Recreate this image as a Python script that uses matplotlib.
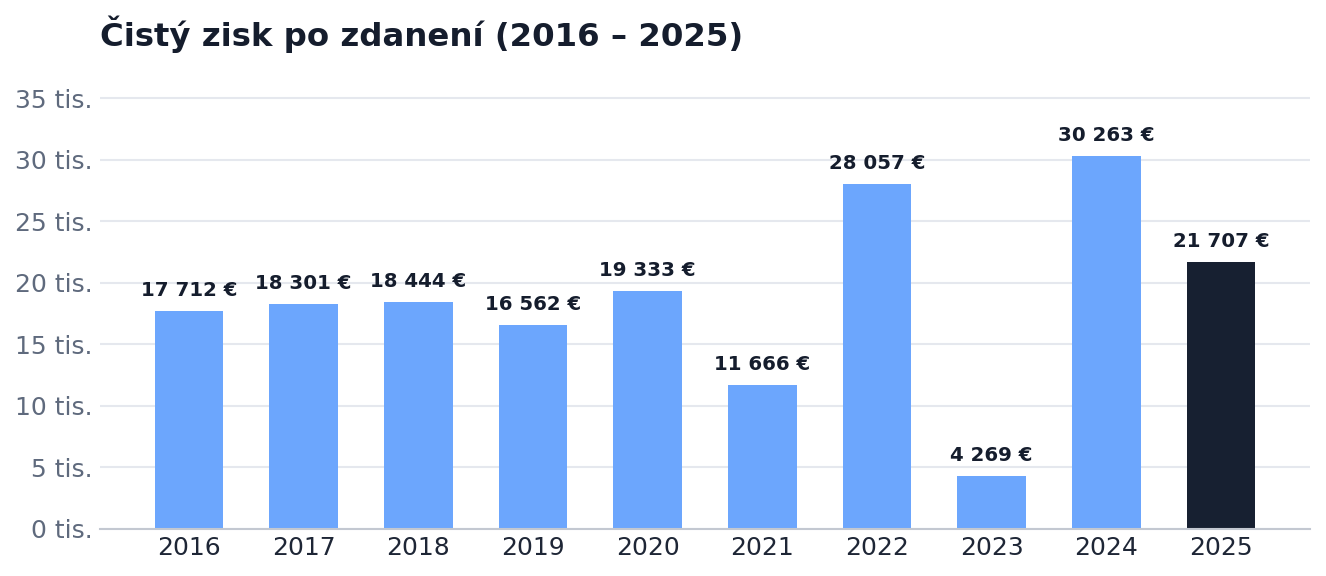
import matplotlib
matplotlib.use("Agg")
import matplotlib.pyplot as plt
from matplotlib.ticker import FuncFormatter, MultipleLocator

years = ["2016", "2017", "2018", "2019", "2020", "2021", "2022", "2023", "2024", "2025"]
profit = [17712, 18301, 18444, 16562, 19333, 11666, 28057, 4269, 30263, 21707]
title = "Čistý zisk po zdanení (2016 – 2025)"

BLUE = "#6ca6fd"
DARK = "#172031"
TEXT = "#151d2d"
GRAY = "#5f6a7d"

plt.rcParams['font.family'] = ['DejaVu Sans']
fig = plt.figure(figsize=(13.26, 5.76), dpi=100)
ax = fig.add_axes([100/1326, 1-529/576, 1210/1326, (529-74.5)/576])

x = list(range(len(years)))
colors = [BLUE] * (len(years) - 1) + [DARK]
bars = ax.bar(x, profit, width=0.6, color=colors, zorder=3)

def fmt_val(v):
    return f"{v:,}".replace(",", " ") + " €"

for xi, v in zip(x, profit):
    ax.annotate(fmt_val(v), (xi, v), xytext=(0, 8), textcoords="offset points",
                ha="center", va="bottom", fontsize=14.2, fontweight="bold", color=TEXT)

ax.set_xlim(-0.776, 9.776)
ax.set_ylim(0, max(profit) * 1.22)
ax.yaxis.set_major_locator(MultipleLocator(5000))
ax.yaxis.set_major_formatter(FuncFormatter(lambda v, p: f"{int(round(v/1000))} tis."))
ax.set_xticks(x)
ax.set_xticklabels(years)
ax.tick_params(axis="x", length=0, labelsize=18, colors="#1e2636", pad=5)
ax.tick_params(axis="y", length=0, labelsize=18, colors=GRAY, pad=5.5)
ax.grid(axis="y", color="#e5e8ee", linewidth=1.5, zorder=0)
for s in ["top", "right", "left"]:
    ax.spines[s].set_visible(False)
ax.spines["bottom"].set_color("#c3c8d1")
ax.spines["bottom"].set_linewidth(1.5)
ax.spines["bottom"].set_zorder(4)

fig.text(100/1326, 1-34/576, title, fontsize=23.3, fontweight="bold", color=TEXT,
         ha="left", va="center")

fig.savefig("out.png", dpi=100)
